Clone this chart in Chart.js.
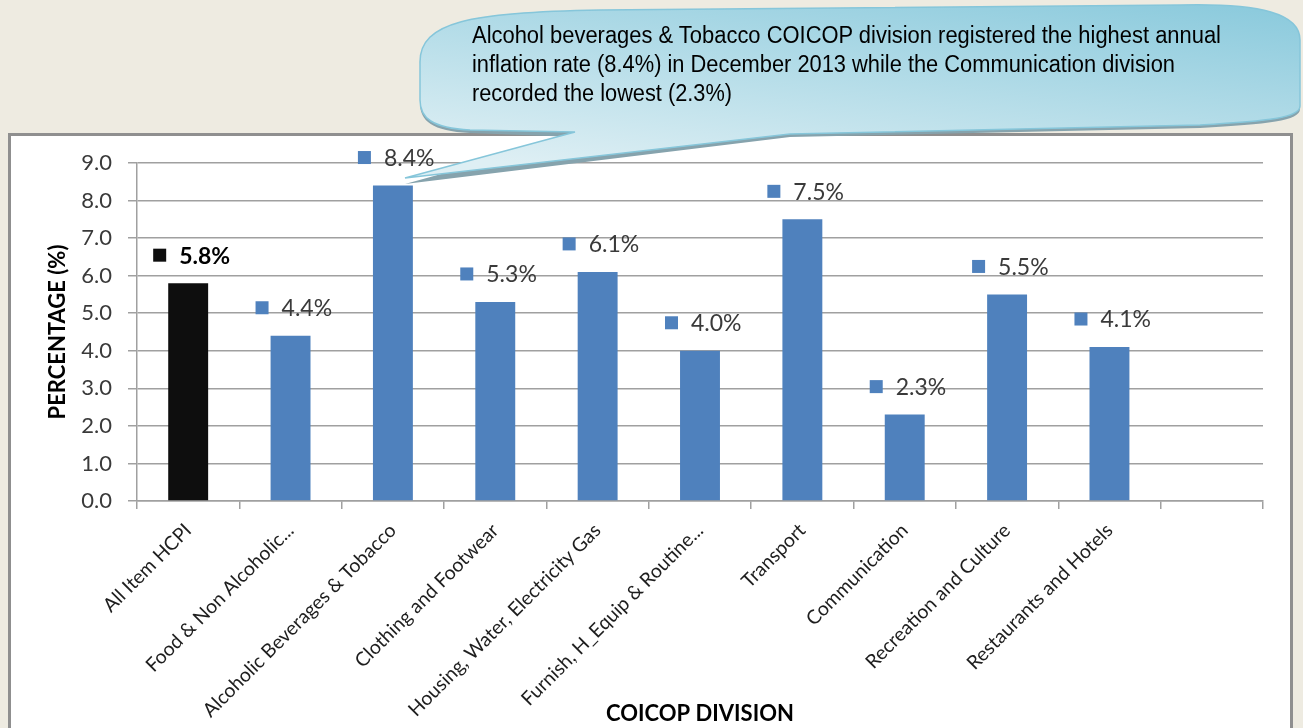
<!DOCTYPE html>
<html>
<head>
<meta charset="utf-8">
<script src="https://cdn.jsdelivr.net/npm/chart.js@4.4.1/dist/chart.umd.min.js"></script>
<style>
  html, body { margin: 0; padding: 0; width: 1303px; height: 728px; overflow: hidden; background: #eeebe1; }
  .chart-box { position: absolute; left: 8px; top: 133px; width: 1279px; height: 640px; background: #fff; border: 3px solid #8f8f8f; }
  #inflationChart { position: absolute; left: 0; top: 0; }
  .callout { position: absolute; left: 0; top: 0; }
</style>
</head>
<body>
<div class="chart-box"></div>
<canvas id="inflationChart" width="1303" height="728"></canvas>

<svg class="callout" width="1303" height="728">
  <defs>
    <linearGradient id="bubbleFill" x1="0.9" y1="0" x2="0.25" y2="1">
      <stop offset="0" stop-color="#8dcbdd"/>
      <stop offset="1" stop-color="#deeff4"/>
    </linearGradient>
  </defs>
  <path d="M 420 62 C 420 22 470 12 600 10 L 1180 5 C 1262 3 1300 14 1300 40 L 1300 106 C 1300 118 1268 121 1200 125 L 790 134 L 405 181 L 575 134 L 470 130 C 432 128 420 118 420 100 Z"
        transform="translate(0,3)" fill="#86a3ad"/>
  <path d="M 420 62 C 420 22 470 12 600 10 L 1180 5 C 1262 3 1300 14 1300 40 L 1300 106 C 1300 118 1268 121 1200 125 L 790 134 L 405 178 L 575 132 L 470 130 C 432 128 420 118 420 100 Z"
        fill="url(#bubbleFill)" stroke="#86c6da" stroke-width="1.5"/>
  <g font-family="'Liberation Sans Narrow', 'Liberation Sans', Arial, sans-serif" font-size="23" fill="#000">
    <text x="472" y="43" textLength="749" lengthAdjust="spacingAndGlyphs">Alcohol beverages &amp; Tobacco COICOP division registered the highest annual</text>
    <text x="472" y="72" textLength="703" lengthAdjust="spacingAndGlyphs">inflation rate (8.4%) in December 2013 while the Communication division</text>
    <text x="472" y="101" textLength="260" lengthAdjust="spacingAndGlyphs">recorded the lowest (2.3%)</text>
  </g>
</svg>

<script>
// data
const categories = ['All Item HCPI', 'Food & Non Alcoholic...', 'Alcoholic Beverages & Tobacco', 'Clothing and Footwear',
    'Housing, Water, Electricity Gas', 'Furnish, H_Equip & Routine...', 'Transport', 'Communication',
    'Recreation and Culture', 'Restaurants and Hotels', '']
const inflationRates = [5.8, 4.4, 8.4, 5.3, 6.1, 4.0, 7.5, 2.3, 5.5, 4.1, null]
const yAxisMax = 9
const yAxisStep = 1

const barColors = categories.map((c, i) => i === 0 ? '#0e0e0e' : '#4f81bd')

// value labels with a little colour key in front, like Excel
const valueLabels = {
    id: 'valueLabels',
    afterDatasetsDraw(chart) {
        const ctx = chart.ctx
        const bars = chart.getDatasetMeta(0).data
        ctx.save()
        bars.forEach((bar, i) => {
            const v = inflationRates[i]
            if (v == null) return
            const y = bar.y - 28
            ctx.fillStyle = barColors[i]
            ctx.fillRect(bar.x - 35, y - 6.5, 13, 13)
            ctx.font = (i === 0 ? 'bold ' : '') + '23px Lato'
            ctx.fillStyle = i === 0 ? '#000' : '#3a3a3a'
            ctx.textAlign = 'left'
            ctx.textBaseline = 'middle'
            ctx.fillText(v.toFixed(1) + '%', bar.x - 9, y + 1)
        })
        ctx.restore()
    }
}

const chartCanvas = document.getElementById('inflationChart')
const inflationChart = new Chart(chartCanvas, {
    type: 'bar',
    data: {
        labels: categories,
        datasets: [{
            data: inflationRates,
            backgroundColor: barColors,
            barPercentage: 0.39,
            categoryPercentage: 1
        }]
    },
    options: {
        responsive: false,
        animation: false,
        layout: { padding: { left: 30, top: 163, right: 40, bottom: 0 } },
        plugins: {
            legend: { display: false },
            tooltip: { enabled: false }
        },
        scales: {
            x: {
                afterFit: (scale) => { scale.height = 227 },
                grid: { drawOnChartArea: false, drawTicks: true, tickLength: 8, color: '#a0a0a0', lineWidth: 1.5 },
                border: { color: '#a0a0a0', width: 1.5 },
                ticks: {
                    autoSkip: false,
                    minRotation: 45,
                    maxRotation: 45,
                    padding: 10,
                    color: '#1e1e1e',
                    font: { family: 'Lato', size: 19.4 }
                },
                title: {
                    display: true,
                    text: 'COICOP DIVISION',
                    color: '#000',
                    font: { family: 'Lato', size: 22, weight: 'bold' },
                    padding: { top: 0, bottom: 1 }
                }
            },
            y: {
                min: 0,
                max: yAxisMax,
                afterFit: (scale) => { scale.width = 107 },
                grid: { color: '#a0a0a0', lineWidth: 1.5, tickLength: 9 },
                border: { color: '#a0a0a0', width: 1.5 },
                ticks: {
                    stepSize: yAxisStep,
                    padding: 16,
                    color: '#3a3a3a',
                    font: { family: 'Lato', size: 22 },
                    callback: (v) => v.toFixed(1)
                },
                title: {
                    display: true,
                    text: 'PERCENTAGE (%)',
                    color: '#000',
                    font: { family: 'Lato', size: 22, weight: 'bold' },
                    padding: { top: 15, bottom: 0 }
                }
            }
        }
    },
    plugins: [valueLabels]
})
</script>
</body>
</html>
